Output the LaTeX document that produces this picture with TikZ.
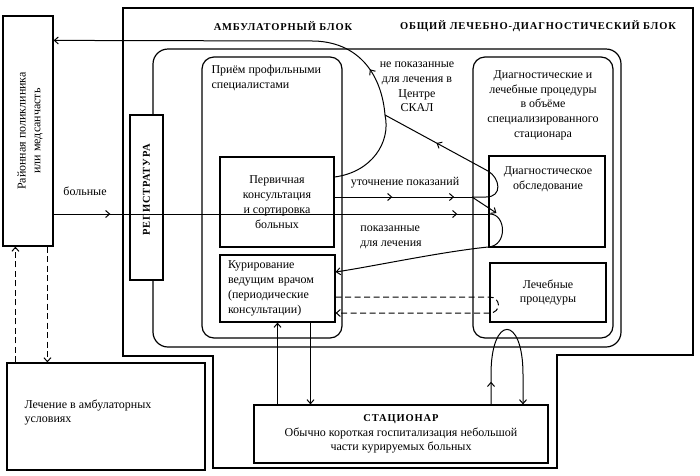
\documentclass[tikz,border=0pt]{standalone}
\usepackage{fontspec}
\setmainfont{Liberation Serif}
\usepackage{tikz}
\usetikzlibrary{arrows,arrows.meta,shapes,positioning,calc,decorations.markings}
\tikzstyle{box} = [rectangle, draw=black, line width=1.2pt, align=center, inner sep=4pt]
\tikzstyle{rbox} = [line width=1.2pt, rounded corners=12pt]
\tikzstyle{frame} = [line width=2.2pt]
\tikzstyle{conn} = [line width=1pt, >={Straight Barb[length=4pt,width=7pt]}]
\tikzstyle{dconn} = [conn, dash pattern=on 6pt off 3.5pt]
\tikzset{midarrow/.style={postaction={decorate, decoration={markings, mark=at position #1 with {\arrow{>}}}}}}
\newcommand{\hdr}{\bfseries\fontsize{10.5}{12}\selectfont\addfontfeatures{LetterSpace=8}}

\begin{document}
\begin{tikzpicture}[x=1pt, y=-1pt, font=\fontsize{12}{14.8}\selectfont]
\useasboundingbox (0,0) rectangle (700,475);
\draw[frame] (123,8) -- (693,8) -- (693,355) -- (557,355) -- (557,468) -- (213,468) -- (213,356) -- (123,356) -- cycle;
\node (amb) at (283,26) {\hdr АМБУЛАТОРНЫЙ БЛОК};
\node (obsh) at (538,26) {\hdr ОБЩИЙ ЛЕЧЕБНО-ДИАГНОСТИЧЕСКИЙ БЛОК};
\draw[rbox, rounded corners=15pt] (153,49) rectangle (621,347);
\draw[rbox] (202,57) rectangle (342,338);
\draw[rbox] (473,57) rectangle (613,338);
\node[anchor=north west, align=left] (priem) at (208,62) {Приём профильными\\специалистами};
\node[anchor=north, align=center] (diag) at (543,67) {Диагностические и\\лечебные процедуры\\в объёме\\специализированного\\стационара};

\node[box, minimum width=50, minimum height=230] (rajon) at (28,131) {};
\node[rotate=90, align=center] (rajontxt) at (30,131) {Районная поликлиника\\или медсанчасть};
\node[box, minimum width=198, minimum height=107] (lech) at (106,416.5) {};
\node[anchor=north west, align=left] (lechtxt) at (21,396) {Лечение в амбулаторных\\условиях};
\node[box, fill=white, minimum width=33, minimum height=165] (reg) at (146.5,197.5) {};
\node[rotate=90] (regtxt) at (146.5,190) {\hdr РЕГИСТРАТУРА};

\node[box, minimum width=114, minimum height=90] (perv) at (277,202) {Первичная\\консультация\\и сортировка\\больных};
\node[box, align=left, text width=99pt, inner xsep=8pt, minimum height=67] (kur) at (277.5,288.5) {Курирование\\ведущим врачом\\(периодические\\консультации)};
\node[box, minimum width=116, minimum height=91] (diagobs) at (547,201.5) {};
\node[anchor=north, align=center] (diagobstxt) at (548,163) {Диагностическое\\обследование};
\node[box, minimum width=116, minimum height=59] (lechproc) at (548,292.5) {Лечебные\\процедуры};
\node[box, minimum width=294, minimum height=58] (stac) at (401,434) {{\hdr СТАЦИОНАР}\\Обычно короткая госпитализация небольшой\\части курируемых больных};

\node (bolnye) at (85,191) {больные};
\node (utoch) at (405,183) {уточнение показаний};
\node[align=left] (pokaz) at (391,237) {показанные\\для лечения};
\node[align=center] (nepokaz) at (417,87) {не показанные\\для лечения в\\Центре\\СКАЛ};

\coordinate (cB) at (385,115);
\coordinate (cU) at (472,197);
\coordinate (cL) at (488,171);
\coordinate (cC) at (490,214);
\draw[conn] ([yshift=25pt]perv.east) .. controls (372,172) and (391,142) .. (cB);
\draw[conn, ->, midarrow=0.13] (cB) .. controls (382,78) and (362,43) .. (315,41) -- ([yshift=-25pt]rajon.north east);
\draw[conn, midarrow=0.42, midarrow=0.87] ([yshift=5pt]perv.east) -- (cU);
\draw[conn] (cU) -- (486,197) .. controls (503,197) and (500,178) .. (cL);
\draw[conn, midarrow=0.5] (cL) -- (cB);
\draw[conn, ->] (cU) -- ($(diagobs.west)+(8,11.5)$);
\draw[conn, midarrow=0.13, midarrow=0.925] ([yshift=-83pt]rajon.east) -- (cC);
\draw[conn, ->] (cC) .. controls (506,214) and (508,246) .. (488,247) .. controls (440,252) and (375,266) .. ([yshift=16.5pt]kur.east);
\draw[dconn, ->] ([yshift=-8.5pt]kur.east) -- ($(lechproc.west)+(0,4.5)$) .. controls +(12,0) and +(12,0) .. ($(lechproc.west)+(0,20.5)$) -- ([yshift=-24.5pt]kur.east);
\draw[conn, ->] (kur.south |- stac.north) -- (kur.south);
\draw[conn, ->] ($(kur.south)+(33,0)$) -- ($(stac.north)+(-90.5,0)$);
\draw[conn, ->, midarrow=0.14] ($(stac.north)+(90,0)$) -- ++(0,-30) .. controls +(0,-60) and +(0,-60) .. ($(stac.north)+(122,-30)$) -- ($(stac.north)+(122,0)$);
\draw[dconn, ->] ($(lech.north west)+(9,0)$) -- ($(rajon.south west)+(13,0)$);
\draw[dconn, ->] ($(rajon.south west)+(45,0)$) -- ($(lech.north west)+(41,0)$);
\end{tikzpicture}
\end{document}
